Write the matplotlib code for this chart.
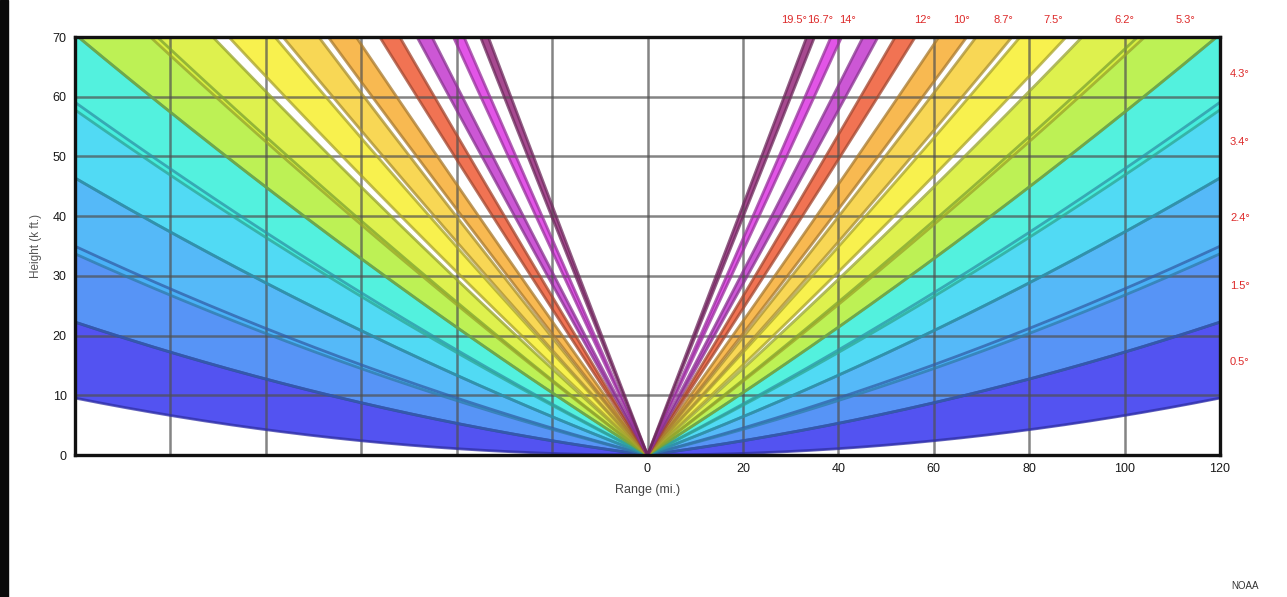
import numpy as np
import matplotlib
matplotlib.use("Agg")
import matplotlib.pyplot as plt
from matplotlib.patches import Rectangle
from matplotlib.colors import to_rgb

# ---- data ----
elev_angles = [0.5, 1.5, 2.4, 3.4, 4.3, 5.3, 6.2, 7.5, 8.7, 10.0, 12.0, 14.0, 16.7, 19.5]
elev_labels = ["0.5°", "1.5°", "2.4°", "3.4°", "4.3°", "5.3°", "6.2°", "7.5°",
               "8.7°", "10°", "12°", "14°", "16.7°", "19.5°"]
band_colors = ["#4646f0", "#4a8cf6", "#48b4f8", "#44d8f4", "#46f0dc", "#b8f048",
               "#dcf040", "#f8f040", "#f8d448", "#f8b444", "#f06846", "#c84ad2",
               "#e048e6", "#a03c88"]
beam_width = 1.0          # degrees
x_ticks = [0, 20, 40, 60, 80, 100, 120]
y_ticks = [0, 10, 20, 30, 40, 50, 60, 70]
x_max = 120
y_max = 70
# label nudges (pixels) for the top labels, ordered as elev_angles
label_dx = [0, 0, 0, 0, 0, 11, 13, 11, 10, 9, 18, -23, -16, -17]

plt.rcParams['font.family'] = ['Liberation Sans', 'DejaVu Sans']

NM_KM = 1.852
KM_KFT = 3.28084
R_EFF = 4.0 / 3.0 * 6371.0


def beam_height(r_nm, ang_deg):
    r = np.asarray(r_nm) * NM_KM
    a = np.radians(ang_deg)
    h = np.sqrt(r ** 2 + R_EFF ** 2 + 2 * r * R_EFF * np.sin(a)) - R_EFF
    return h * KM_KFT


fig = plt.figure(figsize=(12.87, 5.97), dpi=100)
ax = fig.add_axes([75 / 1287, 1 - 455 / 597, (1220 - 75) / 1287, (455 - 37) / 597])

r = np.linspace(0, x_max, 600)
xs = np.concatenate([-r[::-1], r])
for ang, col in zip(elev_angles, band_colors):
    lo = beam_height(r, max(ang - beam_width / 2, 0))
    hi = beam_height(r, ang + beam_width / 2)
    lo2 = np.concatenate([lo[::-1], lo])
    hi2 = np.concatenate([hi[::-1], hi])
    ax.fill_between(xs, lo2, hi2, color=col, alpha=0.93, lw=0, zorder=2)
    dark = tuple(c * 0.68 for c in to_rgb(col))
    for edge in (lo2, hi2):
        ax.plot(xs, edge, color=dark, lw=2.0, alpha=0.75, zorder=3,
                solid_capstyle="butt")

ax.set_xlim(-x_max, x_max)
ax.set_ylim(0, y_max)
grid_x = [-100, -80, -60, -40, -20] + x_ticks
ax.set_xticks(grid_x)
ax.set_xticklabels([""] * 5 + [str(v) for v in x_ticks])
ax.set_yticks(y_ticks)
ax.set_yticklabels([str(v) for v in y_ticks])
ax.grid(True, color="#505050", lw=1.8, alpha=0.7, zorder=4)
ax.set_axisbelow(False)
ax.tick_params(length=0, labelsize=9, pad=6, colors="#1a1a1a")
for s in ax.spines.values():
    s.set_linewidth(2.4)
    s.set_color("#111111")
    s.set_zorder(6)

ax.set_xlabel("Range (mi.)", fontsize=9, color="#444444", labelpad=6)
ax.set_ylabel("Height (k ft.)", fontsize=8.5, color="#555555", labelpad=8)

# elevation labels
label_color = "#dd2a2a"
rr = np.linspace(0, x_max, 4000)
for ang, lab, dx in zip(elev_angles, elev_labels, label_dx):
    hc = beam_height(rr, ang)
    if hc[-1] < y_max:
        ax.annotate(lab, xy=(x_max, hc[-1]), xytext=(10, -2), textcoords="offset pixels",
                    ha="left", va="center", fontsize=8, color=label_color,
                    annotation_clip=False)
    else:
        rx = np.interp(y_max, hc, rr)
        ax.annotate(lab, xy=(rx, y_max), xytext=(dx, 17), textcoords="offset pixels",
                    ha="center", va="center", fontsize=8, color=label_color,
                    annotation_clip=False)

# left dark strip of the screenshot and the credit text
fig.patches.append(Rectangle((0, 0), 8 / 1287, 1, transform=fig.transFigure,
                             color="#0a0a0a", zorder=0))
fig.text(1245 / 1287, 1 - 586 / 597, "NOAA", fontsize=7, color="#333333",
         ha="center", va="center")

fig.savefig("out.png", dpi=100)
